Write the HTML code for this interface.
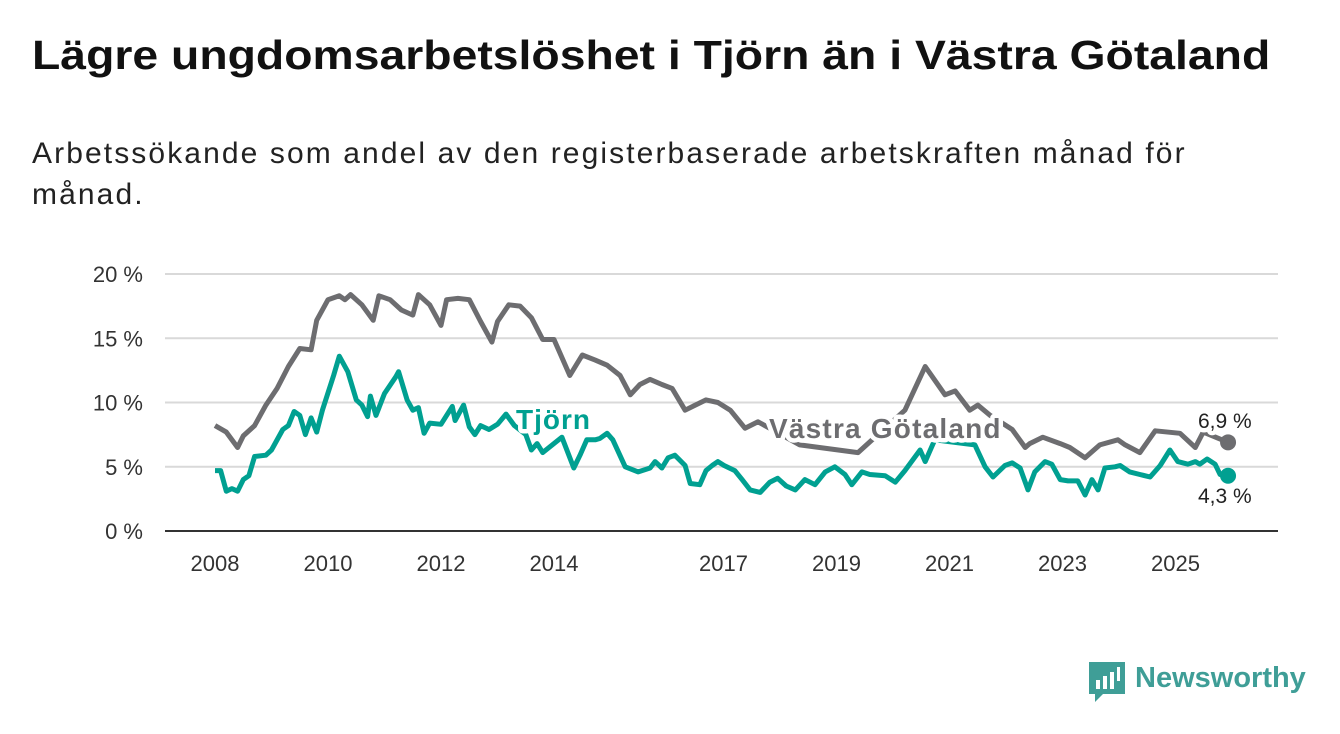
<!DOCTYPE html>
<html><head><meta charset="utf-8"><style>
body{margin:0;width:1340px;height:734px;background:#fff;font-family:"Liberation Sans",sans-serif;overflow:hidden}
#title{position:absolute;left:32px;top:32px;font-size:41px;font-weight:bold;color:#111;margin:0;white-space:nowrap;transform-origin:0 0;transform:scaleX(1.13)}
#sub{position:absolute;left:32px;top:133px;font-size:30px;color:#222;line-height:41px;white-space:nowrap;letter-spacing:2.1px}
svg{position:absolute;left:0;top:0}
</style></head><body>
<h1 id="title">Lägre ungdomsarbetslöshet i Tjörn än i Västra Götaland</h1>
<div id="sub">Arbetssökande som andel av den registerbaserade arbetskraften månad för<br>månad.</div>
<svg id="chart" width="1340" height="734"></svg>
<script>
const yTicks=[0,5,10,15,20];
const xTicks=[2008,2010,2012,2014,2017,2019,2021,2023,2025];
const vgDates=[2008.0,2008.2,2008.4,2008.5,2008.7,2008.9,2009.1,2009.3,2009.5,2009.7,2009.8,2010.0,2010.2,2010.3,2010.4,2010.6,2010.8,2010.9,2011.1,2011.3,2011.5,2011.6,2011.8,2012.0,2012.1,2012.3,2012.5,2012.7,2012.9,2013.0,2013.2,2013.4,2013.6,2013.8,2014.0,2014.28,2014.5,2014.73,2014.94,2015.17,2015.35,2015.52,2015.7,2015.91,2016.09,2016.32,2016.5,2016.69,2016.9,2017.12,2017.38,2017.61,2018.35,2019.38,2020.21,2020.57,2020.92,2021.1,2021.36,2021.5,2021.72,2022.11,2022.34,2022.42,2022.65,2022.96,2023.13,2023.4,2023.66,2023.98,2024.11,2024.37,2024.64,2025.08,2025.35,2025.49,2025.93];
const vgValues=[8.2,7.7,6.5,7.4,8.2,9.8,11.1,12.8,14.2,14.1,16.4,18.0,18.3,18.0,18.4,17.6,16.4,18.3,18.0,17.2,16.8,18.4,17.6,16.0,18.0,18.1,18.0,16.3,14.7,16.3,17.6,17.5,16.6,14.9,14.9,12.1,13.7,13.3,12.9,12.1,10.6,11.4,11.8,11.4,11.1,9.4,9.8,10.2,10.0,9.4,8.0,8.5,6.7,6.1,9.4,12.8,10.6,10.9,9.4,9.8,9.0,7.9,6.5,6.8,7.3,6.8,6.5,5.7,6.7,7.1,6.7,6.1,7.8,7.6,6.5,7.7,6.9];
const tjDates=[2008.0,2008.1,2008.2,2008.3,2008.4,2008.5,2008.6,2008.7,2008.9,2009.0,2009.2,2009.3,2009.4,2009.5,2009.6,2009.7,2009.8,2009.9,2010.1,2010.2,2010.35,2010.5,2010.6,2010.7,2010.75,2010.85,2011.0,2011.2,2011.25,2011.4,2011.5,2011.6,2011.7,2011.8,2012.0,2012.2,2012.25,2012.4,2012.5,2012.6,2012.7,2012.85,2013.0,2013.15,2013.3,2013.5,2013.6,2013.7,2013.8,2014.14,2014.35,2014.46,2014.58,2014.73,2014.81,2014.94,2015.04,2015.26,2015.49,2015.7,2015.79,2015.91,2016.02,2016.14,2016.32,2016.41,2016.58,2016.69,2016.8,2016.9,2017.01,2017.2,2017.33,2017.47,2017.65,2017.82,2017.96,2018.11,2018.27,2018.44,2018.62,2018.8,2018.97,2019.15,2019.27,2019.45,2019.59,2019.86,2020.04,2020.21,2020.48,2020.57,2020.74,2020.92,2021.45,2021.63,2021.77,2021.98,2022.11,2022.25,2022.39,2022.51,2022.69,2022.81,2022.96,2023.1,2023.27,2023.4,2023.52,2023.63,2023.75,2023.93,2024.02,2024.19,2024.37,2024.55,2024.73,2024.9,2025.04,2025.22,2025.35,2025.43,2025.56,2025.7,2025.79,2025.93];
const tjValues=[4.7,4.7,3.1,3.3,3.1,4.0,4.3,5.8,5.9,6.3,7.9,8.2,9.3,9.0,7.5,8.8,7.7,9.4,12.1,13.6,12.4,10.2,9.8,8.9,10.5,9.0,10.7,12.0,12.4,10.2,9.4,9.6,7.6,8.4,8.3,9.7,8.6,9.8,8.1,7.5,8.2,7.9,8.3,9.1,8.2,7.5,6.3,6.8,6.1,7.3,4.9,5.9,7.1,7.1,7.2,7.6,7.1,5.0,4.6,4.9,5.4,4.9,5.7,5.9,5.1,3.7,3.6,4.7,5.1,5.4,5.1,4.7,4.0,3.2,3.0,3.8,4.1,3.5,3.2,4.0,3.6,4.6,5.0,4.4,3.6,4.6,4.4,4.3,3.8,4.7,6.3,5.4,7.1,7.0,6.7,5.0,4.2,5.1,5.3,4.9,3.2,4.6,5.4,5.2,4.0,3.9,3.9,2.8,4.0,3.2,4.9,5.0,5.1,4.6,4.4,4.2,5.1,6.3,5.4,5.2,5.4,5.2,5.6,5.2,4.4,4.3];

const NS='http://www.w3.org/2000/svg';
const svg=document.getElementById('chart');
const L=165,R=1278,Y0=531,Y20=274;
const xs=y=>215+(y-2008)*56.5;
const ys=v=>Y0-(v/20)*(Y0-Y20);
function el(t,a){const e=document.createElementNS(NS,t);for(const k in a)e.setAttribute(k,a[k]);svg.appendChild(e);return e;}
yTicks.forEach(t=>{
  if(t>0){const g=el('line',{x1:L,x2:R,y1:ys(t),y2:ys(t),stroke:'#d9d9d9','stroke-width':2});
  
  }
  const tx=el('text',{x:143,y:ys(t)+8,'text-anchor':'end','font-size':22,fill:'#333','font-family':'Liberation Sans, sans-serif'});
  tx.textContent=t+' %';
  
  
});
const ax=el('line',{x1:L,x2:R,y1:Y0,y2:Y0,stroke:'#333','stroke-width':2});


xTicks.forEach(t=>{
  const tx=el('text',{x:xs(t),y:571,'text-anchor':'middle','font-size':22,fill:'#333','font-family':'Liberation Sans, sans-serif'});
  tx.textContent=t;
  
  
});
function line(d,v,c,name){
  const p=el('path',{d:d.map((x,i)=>(i?'L':'M')+xs(x).toFixed(1)+','+ys(v[i]).toFixed(1)).join(''),fill:'none',stroke:c,'stroke-width':5,'stroke-linejoin':'round'});
  
  
  const n=d.length-1;
  const c2=el('circle',{cx:xs(d[n]),cy:ys(v[n]),r:8,fill:c});
  
  
}
line(vgDates,vgValues,'#6d6d70','vastra-gotaland-line');
line(tjDates,tjValues,'#00a091','tjorn-line');
function label(x,y,txt,c,name,bold,size,ls){
  const t=el('text',{x:x,y:y,fill:c,'font-size':size,'font-weight':bold?'bold':'normal','font-family':'Liberation Sans, sans-serif',stroke:'#fff','stroke-width':9,'paint-order':'stroke','stroke-linejoin':'round','letter-spacing':ls});
  t.textContent=txt;
  
  
}
label(516,429,'Tjörn','#00a091','tjorn-label',true,28,1);
label(769,438,'Västra Götaland','#6d6d70','vastra-gotaland-label',true,28,1.2);
label(1198,428,'6,9 %','#222','vg-end-value',false,21,0);
label(1198,503,'4,3 %','#222','tjorn-end-value',false,21,0);
</script>
<div style="position:absolute;left:1089px;top:662px;display:flex;align-items:center">
<svg width="36" height="40" style="position:static" viewBox="0 0 36 40"><path d="M0 0H36V32H14L6 40V32H0Z" fill="#3f9e97"/><rect x="7" y="18" width="4" height="9" fill="#fff"/><rect x="14" y="14" width="4" height="13" fill="#fff"/><rect x="21" y="10" width="4" height="17" fill="#fff"/><rect x="28" y="5" width="3" height="14" fill="#fff"/></svg>
<span style="font-size:29px;font-weight:bold;color:#3f9e97;margin-left:10px;margin-top:-8px">Newsworthy</span></div>
</body></html>
